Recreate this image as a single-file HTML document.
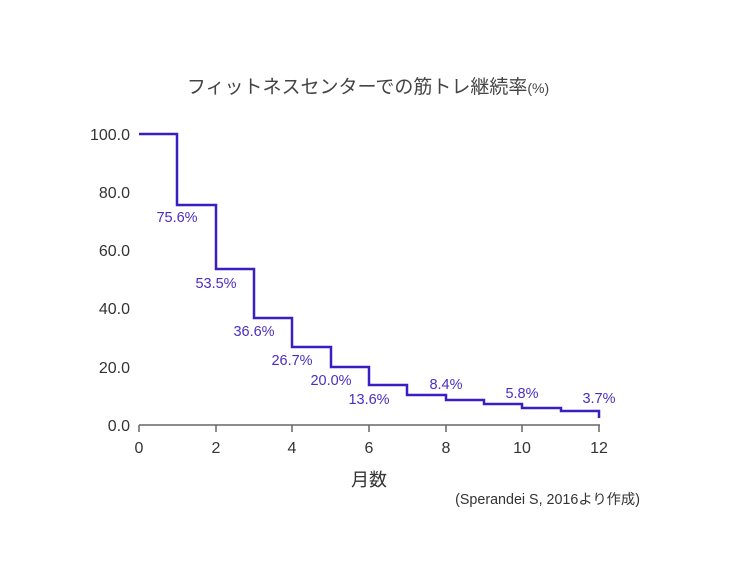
<!DOCTYPE html>
<html><head><meta charset="utf-8"><style>
body{margin:0;background:#fff;width:736px;height:569px;overflow:hidden}
</style></head><body>
<svg width="736" height="569" xmlns="http://www.w3.org/2000/svg" style="font-family:'Liberation Sans','Noto Sans CJK JP',sans-serif">
<text x="368" y="93" text-anchor="middle" font-size="19" fill="#444">フィットネスセンターでの筋トレ継続率<tspan font-size="14">(%)</tspan></text>
<g font-size="16" fill="#333" text-anchor="end">
<text x="130" y="140">100.0</text><text x="130" y="198">80.0</text><text x="130" y="256">60.0</text>
<text x="130" y="314">40.0</text><text x="130" y="373">20.0</text><text x="130" y="431">0.0</text>
</g>
<line x1="139" y1="425" x2="600" y2="425" stroke="#666" stroke-width="1.5"/>
<g stroke="#666" stroke-width="1.5">
<line x1="139" y1="425" x2="139" y2="432"/><line x1="216" y1="425" x2="216" y2="432"/><line x1="292" y1="425" x2="292" y2="432"/>
<line x1="369" y1="425" x2="369" y2="432"/><line x1="446" y1="425" x2="446" y2="432"/><line x1="522" y1="425" x2="522" y2="432"/><line x1="599" y1="425" x2="599" y2="432"/>
</g>
<g font-size="16" fill="#333" text-anchor="middle">
<text x="139" y="453">0</text><text x="216" y="453">2</text><text x="292" y="453">4</text><text x="369" y="453">6</text>
<text x="446" y="453">8</text><text x="522" y="453">10</text><text x="599" y="453">12</text>
</g>
<text x="369" y="486" text-anchor="middle" font-size="18" fill="#333">月数</text>
<text x="640" y="504" text-anchor="end" font-size="14.3" fill="#333">(Sperandei S, 2016より作成)</text>
<path d="M139 134 H177 V205 H216 V269 H254 V318 H292 V347 H331 V367 H369 V385 H407 V395 H446 V400 H484 V404 H522 V408 H561 V411 H599 V418" fill="none" stroke="#3a1fc0" stroke-width="2.5"/>
<g font-size="14.5" fill="#4a2ec0" text-anchor="middle">
<text x="177" y="222">75.6%</text><text x="216" y="288">53.5%</text><text x="254" y="336">36.6%</text>
<text x="292" y="365">26.7%</text><text x="331" y="385">20.0%</text><text x="369" y="404">13.6%</text>
<text x="446" y="389">8.4%</text><text x="522" y="398">5.8%</text><text x="599" y="403">3.7%</text>
</g>
</svg>
</body></html>
